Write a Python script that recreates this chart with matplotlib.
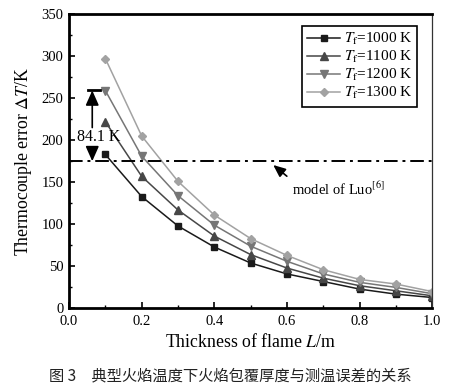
import matplotlib
matplotlib.use("Agg")
import matplotlib.pyplot as plt
from matplotlib.ticker import MultipleLocator

plt.rcParams['font.family'] = ['Liberation Serif', 'DejaVu Serif']
plt.rcParams['mathtext.fontset'] = 'stix'

thickness = [0.1, 0.2, 0.3, 0.4, 0.5, 0.6, 0.7, 0.8, 0.9, 1.0]
err_1000 = [183, 133, 98, 73, 54, 41, 32, 23, 17, 13]
err_1100 = [222, 157, 117, 86, 64, 48, 36, 27, 21, 15]
err_1200 = [259, 181, 134, 99, 74, 56, 41, 31, 25, 17.5]
err_1300 = [297, 205, 151, 111, 83, 63, 46, 34.5, 29, 20]
labels = ['$T_{\\mathrm{f}}$=1000 K', '$T_{\\mathrm{f}}$=1100 K',
          '$T_{\\mathrm{f}}$=1200 K', '$T_{\\mathrm{f}}$=1300 K']
luo_value = 175
gap_label = '84.1 K'
gap_top = 259.1

fig = plt.figure(figsize=(4.6, 3.88), dpi=100)
ax = fig.add_axes([0.15, 0.205, 0.79, 0.759])

series = [err_1000, err_1100, err_1200, err_1300]
colors = ['#1a1a1a', '#474747', '#767676', '#a2a2a2']
markers = ['s', '^', 'v', 'D']
msizes = [5, 5.5, 5.5, 4.5]
for ys, c, m, ms, lab in zip(series, colors, markers, msizes, labels):
    ax.plot(thickness, ys, color=c, marker=m, markersize=ms, lw=1.1, label=lab)

ax.axhline(luo_value, color='black', lw=1.4, ls=(0, (7, 2.5, 1.5, 2.5)))

# gap annotation
ax.plot([0.053, 0.085], [gap_top, gap_top], color='black', lw=2)
ax.annotate('', xy=(0.064, gap_top), xytext=(0.064, 215),
            arrowprops=dict(arrowstyle='-|>,head_width=0.4,head_length=0.9',
                            color='black', lw=1.2, shrinkA=0, shrinkB=0))
ax.annotate('', xy=(0.064, luo_value), xytext=(0.064, 192),
            arrowprops=dict(arrowstyle='-|>,head_width=0.4,head_length=0.9',
                            color='black', lw=1.2, shrinkA=0, shrinkB=0))
ax.text(0.083, 204, gap_label, ha='center', va='center', fontsize=11.5)

ax.annotate('model of Luo$^{\\mathrm{[6]}}$', xy=(0.562, 170.5), xytext=(0.613, 142),
            fontsize=10.5, ha='left', va='center',
            arrowprops=dict(arrowstyle='-|>,head_width=0.3,head_length=0.7',
                            color='black', lw=1.2, shrinkA=2, shrinkB=0,
                            relpos=(0.0, 1.0)))

ax.set_xlim(0, 1.0)
ax.set_ylim(0, 350)
ax.xaxis.set_major_locator(MultipleLocator(0.2))
ax.xaxis.set_minor_locator(MultipleLocator(0.1))
ax.yaxis.set_major_locator(MultipleLocator(50))
ax.yaxis.set_minor_locator(MultipleLocator(25))
ax.set_xticklabels(['%.1f' % v for v in ax.get_xticks()])
ax.tick_params(which='both', direction='in', top=False, right=False,
               labelsize=10.5, color='black')
ax.tick_params(axis='y', pad=4)
ax.tick_params(axis='x', pad=5)
ax.tick_params(which='major', length=4, width=1.2)
ax.tick_params(which='minor', length=2.5, width=1.0)

for s in ['left', 'bottom', 'top']:
    ax.spines[s].set_linewidth(2)
    ax.spines[s].set_color('black')
ax.spines['right'].set_linewidth(0.9)
ax.spines['right'].set_color('#333333')

ax.set_xlabel('Thickness of flame $L$/m', fontsize=12.8, labelpad=3.5)
ax.set_ylabel('Thermocouple error $\\Delta T$/K', fontsize=12.8, labelpad=5)

leg = ax.legend(loc='upper right', bbox_to_anchor=(0.98, 0.985), fontsize=11,
                fancybox=False, edgecolor='black', framealpha=1,
                handlelength=2.2, handletextpad=0.2, labelspacing=0.12,
                borderpad=0.35)
leg.get_frame().set_linewidth(1.2)

fig.text(0.5, 0.03, '图 3　典型火焰温度下火焰包覆厚度与测温误差的关系',
         ha='center', va='center', fontsize=11, color='#222222',
         family=['Noto Sans CJK SC', 'DejaVu Sans'])

fig.savefig('out.png', dpi=100)
